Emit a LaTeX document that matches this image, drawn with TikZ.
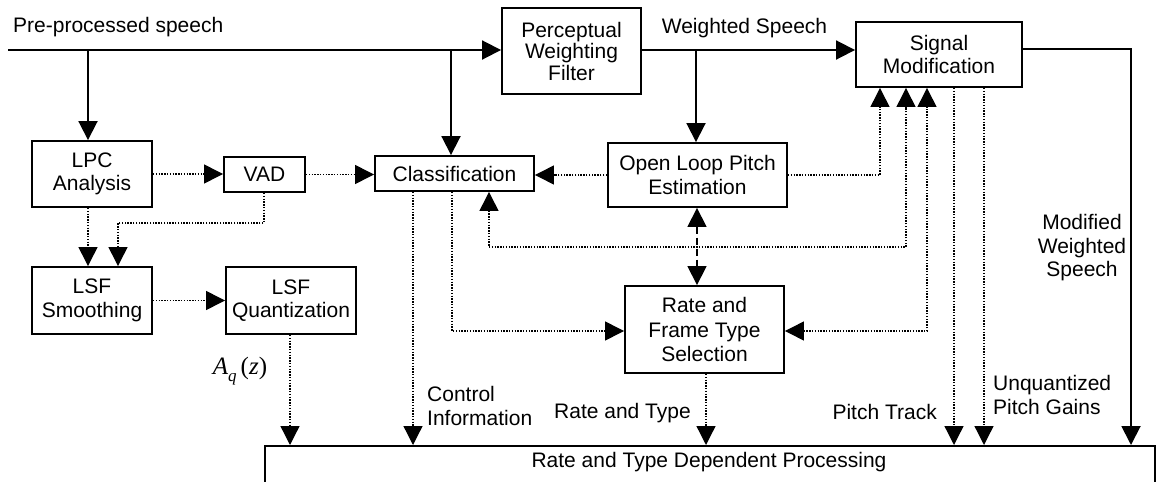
\documentclass[tikz,border=0pt]{standalone}
\usepackage{fontspec}
\setmainfont{Liberation Sans}
\newfontfamily\tmsfont{Liberation Serif}
\usetikzlibrary{arrows.meta}
\begin{document}
\begin{tikzpicture}[x=1pt,y=-1pt,
  box/.style={draw, line width=1.9pt, inner sep=0pt, align=center, font=\fontsize{21}{23.5}\selectfont},
  lbl/.style={inner sep=0pt, font=\fontsize{21}{23.5}\selectfont},
  sol/.style={line width=1.9pt},
  dot/.style={line width=1.3pt, dash pattern=on 1.4pt off 1.4pt},
  dsh/.style={line width=1.7pt, dash pattern=on 7pt off 4pt},
  tip/.style={-{Triangle[width=19pt,length=19pt]}},
  tiptwo/.style={{Triangle[width=19pt,length=19pt]}-{Triangle[width=19pt,length=19pt]}}
]
\useasboundingbox (0,0) rectangle (1157,482);
\clip (0,0) rectangle (1157,482);

% boxes
\node[box, minimum width=139, minimum height=86, font=\fontsize{21}{21.5}\selectfont] (pwf) at (571.5,51) {Perceptual\\Weighting\\Filter};
\node[box, minimum width=166, minimum height=65] (sm) at (939,54.5) {Signal\\Modification};
\node[box, minimum width=120, minimum height=66] (lpc) at (92,174) {LPC\\Analysis};
\node[box, minimum width=81, minimum height=35] (vad) at (264.5,174.5) {VAD};
\node[box, minimum width=159, minimum height=35] (cls) at (454.5,173.5) {Classification};
\node[box, minimum width=179, minimum height=64] (olp) at (697.5,175) {Open Loop Pitch\\Estimation};
\node[box, minimum width=120, minimum height=67] (lsfs) at (92,300.5) {LSF\\Smoothing};
\node[box, minimum width=130, minimum height=67] (lsfq) at (291,300.5) {LSF\\Quantization};
\node[box, minimum width=159, minimum height=87, font=\fontsize{21}{24.5}\selectfont] (rfs) at (704.5,329.5) {Rate and\\Frame Type\\Selection};
\node[box, anchor=north west, minimum width=890, minimum height=70] (rtd) at (264,445) {};

% labels
\node[lbl, anchor=west] (tpre) at (13,27) {Pre-processed speech};
\node[lbl] (tws) at (744.5,28) {Weighted Speech};
\node[lbl, align=center] (tmws) at (1082,248) {Modified\\Weighted\\Speech};
\node[lbl, anchor=east] (tptr) at (937,412) {Pitch Track};
\node[lbl, align=left, anchor=west] (tupg) at (993,395) {Unquantized\\Pitch Gains};
\node[lbl, anchor=east] (trt) at (691,413) {Rate and Type};
\node[lbl, align=left, anchor=west] (tci) at (427,406) {Control\\Information};
\node[inner sep=0pt] (taq) at (240,371) {\tmsfont\fontsize{25}{25}\selectfont\itshape A\raisebox{-7pt}{\fontsize{17}{17}\selectfont q}\hspace{4pt}\upshape(\itshape z\upshape)};
\node[lbl] (trtd) at (709,462) {Rate and Type Dependent Processing};

% solid connectors
\coordinate (start) at (8,50);
\draw[sol,tip] (start) -- (pwf.west |- start);
\coordinate (j1) at (88,50);
\draw[sol,tip] (j1) -- (j1 |- lpc.north);
\coordinate (j2) at (451,50);
\draw[sol,tip] (j2) -- (j2 |- cls.north);
\draw[sol,tip] (pwf.east |- start) -- (sm.west |- start);
\coordinate (j3) at (696,50);
\draw[sol,tip] (j3) -- (j3 |- olp.north);
\coordinate (mw) at (1131,49);
\draw[sol,tip] (sm.east |- mw) -- (mw) -- (mw |- rtd.north);

% dotted connectors
\draw[dot,tip] (lpc.east) -- (lpc.east -| vad.west);
\draw[dot,tip] (vad.east) -- (vad.east -| cls.west);
\draw[dot,tip] (olp.west) -- (olp.west -| cls.east);
\coordinate (l1) at (88,0);
\draw[dot,tip] (l1 |- lpc.south) -- (l1 |- lsfs.north);
\coordinate (v1) at (264,223);
\coordinate (v2) at (118,223);
\draw[dot,tip] (v1 |- vad.south) -- (v1) -- (v2) -- (v2 |- lsfs.north);
\draw[dot,tip] (lsfs.east) -- (lsfs.east -| lsfq.west);
\coordinate (aq) at (290,0);
\draw[dot,tip] (aq |- lsfq.south) -- (aq |- rtd.north);
\coordinate (ci) at (413,0);
\draw[dot,tip] (ci |- cls.south) -- (ci |- rtd.north);
\coordinate (c2) at (452,331);
\draw[dot,tip] (c2 |- cls.south) -- (c2) -- (c2 -| rfs.west);
\coordinate (o1) at (880,175);
\draw[dot,tip] (olp.east |- o1) -- (o1) -- (o1 |- sm.south);
\coordinate (f1) at (489,247);
\coordinate (f2) at (906,247);
\draw[dot,tiptwo] (f1 |- cls.south) -- (f1) -- (f2) -- (f2 |- sm.south);
\coordinate (r1) at (927,331);
\draw[dot,tiptwo] (rfs.east |- r1) -- (r1) -- (r1 |- sm.south);
\coordinate (d1) at (697,0);
\draw[dsh,tiptwo] (d1 |- olp.south) -- (d1 |- rfs.north);
\coordinate (pt) at (954,0);
\draw[dot,tip] (pt |- sm.south) -- (pt |- rtd.north);
\coordinate (ug) at (984,0);
\draw[dot,tip] (ug |- sm.south) -- (ug |- rtd.north);
\coordinate (rt) at (706,0);
\draw[dot,tip] (rt |- rfs.south) -- (rt |- rtd.north);
\end{tikzpicture}
\end{document}
